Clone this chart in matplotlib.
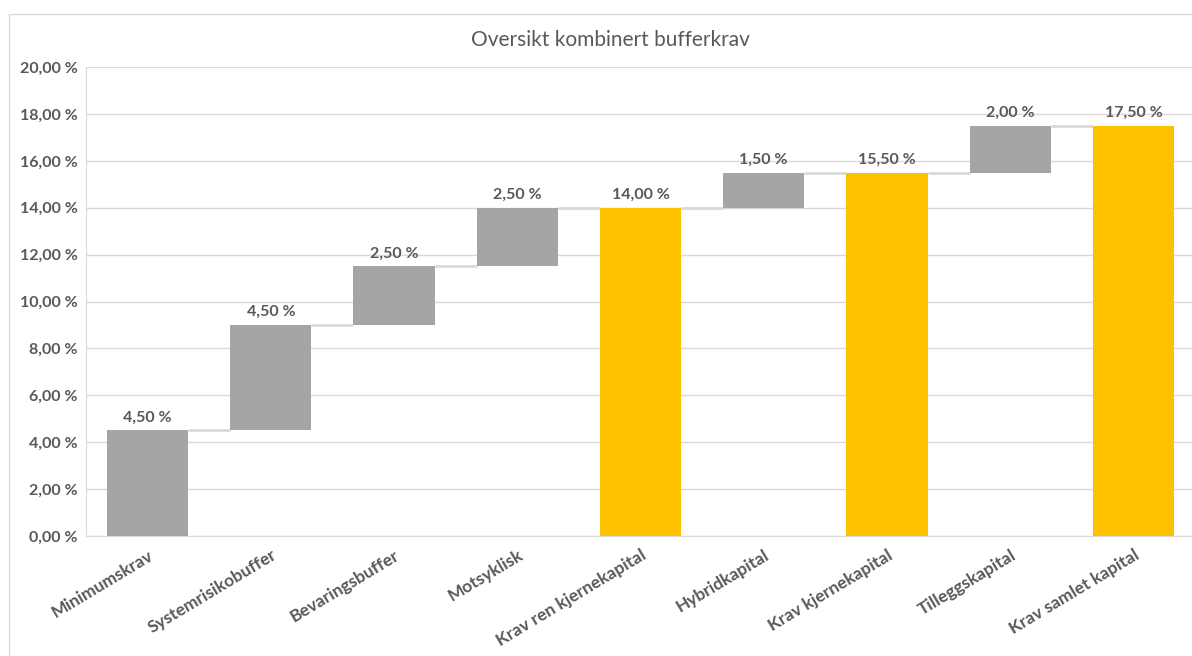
import numpy as np
import matplotlib.pyplot as plt
from matplotlib.patches import Rectangle
from matplotlib.transforms import ScaledTranslation

# Waterfall data: step values and which bars are running totals
categories = ["Minimumskrav", "Systemrisikobuffer", "Bevaringsbuffer", "Motsyklisk",
              "Krav ren kjernekapital", "Hybridkapital", "Krav kjernekapital",
              "Tilleggskapital", "Krav samlet kapital"]
values = [4.5, 4.5, 2.5, 2.5, 14.0, 1.5, 15.5, 2.0, 17.5]
is_total = [False, False, False, False, True, False, True, False, True]

GREY = "#a5a5a5"
GOLD = "#ffc000"
TEXT = "#595959"
GRID = "#d9d9d9"

plt.rcParams['font.family'] = ['Lato', 'DejaVu Sans']


def pct(v):
    return f"{v:.2f}".replace(".", ",") + " %"


# bottoms and tops for each bar
bottoms, tops = [], []
running = 0.0
for v, tot in zip(values, is_total):
    if tot:
        bottoms.append(0.0)
        tops.append(v)
        running = v
    else:
        bottoms.append(running)
        running += v
        tops.append(running)

fig = plt.figure(figsize=(11.92, 6.56), dpi=100)
# outer chart frame
fig.patches.append(Rectangle((9 / 1192, -0.1), 1.2, 1 - 14 / 656 + 0.1,
                             transform=fig.transFigure, fill=False,
                             edgecolor=GRID, linewidth=1.0))

ax = fig.add_axes([86 / 1192, 1 - 536 / 656, 1109 / 1192, 469 / 656])
x = np.arange(len(categories))
width = 0.66
colors = [GOLD if t else GREY for t in is_total]
ax.bar(x, np.array(tops) - np.array(bottoms), bottom=bottoms, width=width,
       color=colors, zorder=3)

# connector lines between consecutive bars
for i in range(len(categories) - 1):
    ax.plot([x[i] + width / 2, x[i + 1] - width / 2], [tops[i], tops[i]],
            color=GRID, linewidth=2, zorder=2, solid_capstyle='butt')

for xi, top, v in zip(x, tops, values):
    ax.text(xi, top + 0.25, pct(v), ha='center', va='bottom',
            fontsize=11.5, fontweight='bold', color=TEXT)

ax.set_xlim(-0.5, len(categories) - 0.5)
ax.set_ylim(0, 20)
ax.set_yticks(np.arange(0, 20.1, 2))
ax.set_yticklabels([pct(t) for t in np.arange(0, 20.1, 2)],
                   fontsize=11.5, fontweight='bold', color=TEXT)
ax.set_xticks(x)
ax.set_xticklabels(categories, rotation=31, ha='right', rotation_mode='anchor',
                   fontsize=12.5, fontweight='bold', color=TEXT)
shift = ScaledTranslation(-17 / 100, 0, fig.dpi_scale_trans)
for lbl in ax.get_xticklabels():
    lbl.set_transform(lbl.get_transform() + shift)
ax.tick_params(axis='both', length=0)
ax.tick_params(axis='x', pad=8)
ax.tick_params(axis='y', pad=6)

ax.grid(axis='y', color=GRID, linewidth=1, zorder=0)
for side in ['top', 'right']:
    ax.spines[side].set_visible(False)
ax.spines['left'].set_color(GRID)
ax.spines['bottom'].set_color(GRID)

fig.text(610 / 1192, 1 - 40 / 656, "Oversikt kombinert bufferkrav",
         ha='center', va='center', fontsize=15, color=TEXT)

fig.savefig("out.png", dpi=100)
